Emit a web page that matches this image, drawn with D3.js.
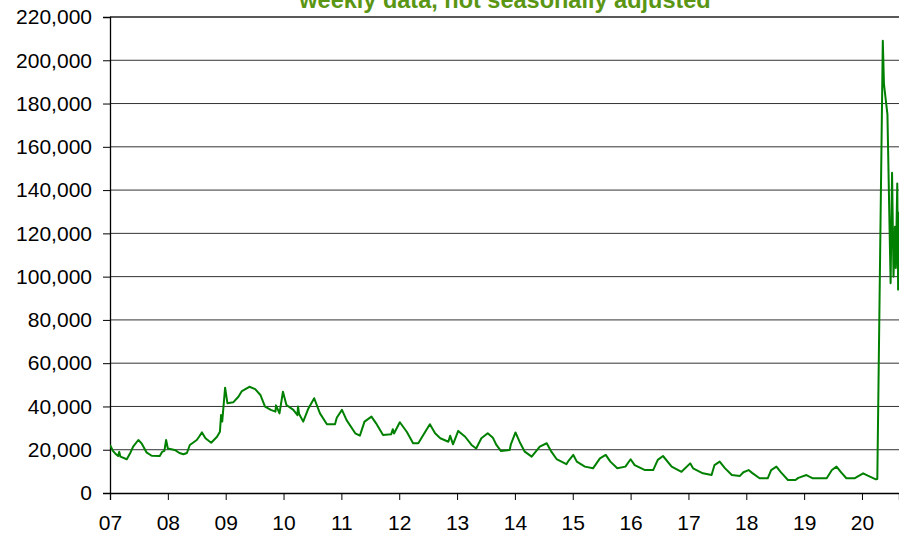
<!DOCTYPE html>
<html>
<head>
<meta charset="utf-8">
<script src="https://cdn.jsdelivr.net/npm/d3@7"></script>
<style>
  html, body { margin: 0; padding: 0; background: #fff; }
  svg { display: block; font-family: "Liberation Sans", Arial, sans-serif; }
</style>
</head>
<body>
<svg id="chart" width="899" height="540"></svg>
<script>
const title = "weekly data, not seasonally adjusted";
const yTicks = [0, 20000, 40000, 60000, 80000, 100000, 120000, 140000, 160000, 180000, 200000, 220000];
const xTickYears = [2007, 2008, 2009, 2010, 2011, 2012, 2013, 2014, 2015, 2016, 2017, 2018, 2019, 2020];
const xTickLabels = ["07", "08", "09", "10", "11", "12", "13", "14", "15", "16", "17", "18", "19", "20"];

// decimal year of each reading
const dates = [
  2007.00, 2007.05, 2007.09, 2007.14, 2007.16, 2007.18, 2007.29, 2007.35, 2007.40, 2007.49,
  2007.55, 2007.63, 2007.72, 2007.86, 2007.90, 2007.94, 2007.97, 2008.00, 2008.12, 2008.20,
  2008.27, 2008.33, 2008.38, 2008.50, 2008.54, 2008.59, 2008.65, 2008.75, 2008.85, 2008.90,
  2008.92, 2008.94, 2008.99, 2009.03, 2009.13, 2009.22, 2009.28, 2009.41, 2009.51, 2009.60,
  2009.68, 2009.78, 2009.86, 2009.87, 2009.93, 2009.99, 2010.05, 2010.17, 2010.24, 2010.25,
  2010.27, 2010.34, 2010.43, 2010.53, 2010.63, 2010.75, 2010.89, 2010.92, 2011.01, 2011.09,
  2011.24, 2011.32, 2011.40, 2011.52, 2011.60, 2011.72, 2011.86, 2011.89, 2011.91, 2012.01,
  2012.13, 2012.24, 2012.33, 2012.45, 2012.53, 2012.62, 2012.71, 2012.85, 2012.88, 2012.93,
  2013.02, 2013.14, 2013.25, 2013.33, 2013.42, 2013.53, 2013.62, 2013.68, 2013.76, 2013.91,
  2013.93, 2014.01, 2014.08, 2014.17, 2014.29, 2014.43, 2014.55, 2014.63, 2014.72, 2014.89,
  2014.93, 2015.01, 2015.07, 2015.21, 2015.35, 2015.47, 2015.57, 2015.65, 2015.77, 2015.91,
  2016.00, 2016.07, 2016.25, 2016.39, 2016.47, 2016.56, 2016.71, 2016.88, 2017.03, 2017.08,
  2017.25, 2017.40, 2017.45, 2017.54, 2017.63, 2017.75, 2017.89, 2017.95, 2018.04, 2018.10,
  2018.23, 2018.37, 2018.43, 2018.52, 2018.60, 2018.72, 2018.85, 2018.90, 2019.04, 2019.15,
  2019.30, 2019.39, 2019.48, 2019.56, 2019.64, 2019.73, 2019.87, 2020.02, 2020.10, 2020.24,
  2020.265, 2020.36, 2020.38, 2020.44, 2020.495, 2020.52, 2020.545, 2020.57, 2020.585, 2020.61,
  2020.625, 2020.645
];
// weekly initial claims
const claims = [
  22200, 19500, 18300, 17100, 19000, 16800, 15600, 18500, 21400, 24500,
  22800, 18800, 17200, 17100, 19000, 19500, 24500, 20600, 19900, 18500,
  17900, 18500, 22200, 24500, 26000, 28000, 25300, 23200, 26000, 28300,
  36000, 33000, 48700, 41500, 41900, 44500, 47100, 49100, 48000, 45300,
  39900, 38400, 37600, 40500, 36800, 46800, 40700, 38400, 36000, 40000,
  36500, 33000, 39100, 43800, 36800, 31800, 31800, 34800, 38400, 33700,
  27600, 26500, 33000, 35300, 32200, 26800, 27100, 29500, 27500, 32700,
  28300, 23000, 23000, 28300, 31800, 27600, 25300, 23700, 26500, 22500,
  28700, 26000, 22200, 20600, 25300, 27600, 25500, 22200, 19400, 19900,
  22500, 28000, 23700, 19100, 16800, 21400, 23000, 19100, 15700, 13300,
  15000, 17600, 14500, 12200, 11400, 16000, 17600, 14500, 11400, 12200,
  15600, 12900, 10600, 10600, 15300, 17100, 12200, 9800, 13700, 11400,
  9100, 8300, 12900, 14500, 11500, 8300, 7900, 9600, 10600, 9300,
  6800, 6800, 10600, 12200, 9500, 6000, 6000, 7000, 8300, 6800,
  6800, 6800, 10600, 12200, 9500, 6800, 6800, 9100, 8000, 6300,
  6500, 209000, 189000, 175000, 97000, 148000, 100000, 123000, 104000, 143000,
  94000, 130000
];

const W = 899, H = 540;
const margin = { left: 110, right: 0, top: 17, bottom: 47 };
const svg = d3.select("#chart");

const x = d3.scaleLinear().domain([2007, 2020.64]).range([margin.left, W - margin.right]);
const y = d3.scaleLinear().domain([0, 220000]).range([H - margin.bottom, margin.top]);

// gridlines
svg.append("g")
  .selectAll("line")
  .data(yTicks.filter(d => d > 0))
  .join("line")
  .attr("x1", margin.left).attr("x2", W)
  .attr("y1", d => y(d)).attr("y2", d => y(d))
  .attr("stroke", d => d === 220000 ? "#222" : "#333")
  .attr("stroke-width", d => d === 220000 ? 1.6 : 1);

// title (partly cut off at top, as in the reference)
svg.append("text")
  .attr("x", 505).attr("y", 7.5)
  .attr("text-anchor", "middle")
  .attr("font-size", 23.5).attr("font-weight", "bold")
  .attr("fill", "#5a9614")
  .text(title);

// y axis
const yAxis = d3.axisLeft(y).tickValues(yTicks).tickSize(7).tickPadding(11)
  .tickFormat(d3.format(","));
const gy = svg.append("g").attr("transform", `translate(${margin.left},0)`).call(yAxis);
gy.select(".domain").attr("stroke", "#000").attr("stroke-width", 1.3);
gy.selectAll(".tick line").attr("stroke", "#000");
gy.selectAll(".tick text").attr("font-size", 21).attr("fill", "#000")
  .attr("font-family", "'Liberation Sans', Arial, sans-serif");

// x axis
const xAxis = d3.axisBottom(x).tickValues(xTickYears).tickSize(7).tickPadding(15)
  .tickFormat((d, i) => xTickLabels[i]);
const gx = svg.append("g").attr("transform", `translate(0,${H - margin.bottom})`).call(xAxis);
gx.select(".domain").attr("stroke", "#000").attr("stroke-width", 1.3);
gx.selectAll(".tick line").attr("stroke", "#000");
gx.selectAll(".tick text").attr("font-size", 21).attr("fill", "#000")
  .attr("font-family", "'Liberation Sans', Arial, sans-serif");

// clip
svg.append("clipPath").attr("id", "plotclip")
  .append("rect").attr("x", margin.left).attr("y", 0)
  .attr("width", W - margin.left).attr("height", H - margin.bottom);

const data = dates.map((d, i) => ({ t: d, v: claims[i] }));
const line = d3.line().x(d => x(d.t)).y(d => y(d.v));
svg.append("path")
  .datum(data)
  .attr("clip-path", "url(#plotclip)")
  .attr("fill", "none")
  .attr("stroke", "#008000")
  .attr("stroke-width", 2)
  .attr("stroke-linejoin", "round")
  .attr("d", line);
</script>
</body>
</html>
